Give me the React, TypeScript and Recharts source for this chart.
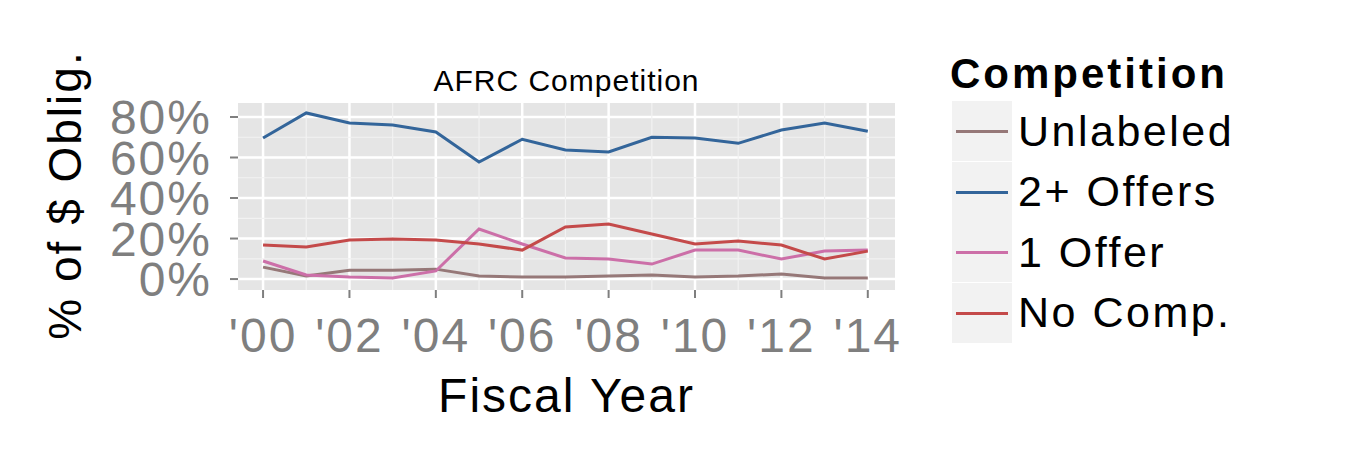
import { LineChart, Line, XAxis, YAxis, CartesianGrid, ReferenceLine } from "recharts";

const years = [2000, 2001, 2002, 2003, 2004, 2005, 2006, 2007, 2008, 2009, 2010, 2011, 2012, 2013, 2014];
const unlabeled = [5.9, 1.5, 4.4, 4.4, 4.9, 1.5, 1, 1, 1.5, 2, 1, 1.5, 2.5, 0.5, 0.5];
const twoPlus = [69.6, 82, 77, 76, 72.6, 57.8, 69, 63.7, 62.7, 70, 69.6, 67, 73.6, 77, 73];
const oneOffer = [8.9, 2, 1, 0.5, 4, 24.7, 17.3, 10.4, 9.9, 7.4, 14.3, 14.3, 9.9, 13.8, 14.3];
const noComp = [16.8, 15.8, 19.3, 19.8, 19.3, 17.3, 14.3, 25.7, 27.2, 22.2, 17.3, 18.8, 16.8, 9.9, 13.8];
const xTicks = [2000, 2002, 2004, 2006, 2008, 2010, 2012, 2014];
const yTicks = [0, 20, 40, 60, 80];
const yMinor = [10, 30, 50, 70];
const xMinor = [2001, 2003, 2005, 2007, 2009, 2011, 2013];

const series = [
  { key: "unlabeled", name: "Unlabeled", color: "#967878" },
  { key: "twoPlus", name: "2+ Offers", color: "#33659A" },
  { key: "oneOffer", name: "1 Offer", color: "#CC6FA8" },
  { key: "noComp", name: "No Comp.", color: "#C44A4A" },
];

const data = years.map((y, i) => ({
  year: y,
  unlabeled: unlabeled[i],
  twoPlus: twoPlus[i],
  oneOffer: oneOffer[i],
  noComp: noComp[i],
}));

const font = "'Liberation Sans', Arial, sans-serif";

export default function App() {
  return (
    <div style={{ position: "relative", width: 1334, height: 434, fontFamily: font }}>
      <LineChart width={900} height={434} data={data} margin={{ top: 95, right: 13, bottom: 72, left: 150 }}>
        <CartesianGrid fill="#E5E5E5" stroke="#FFFFFF" strokeWidth={2.5} horizontalValues={yTicks} verticalValues={xTicks} />
        {yMinor.map((v) => (
          <ReferenceLine key={"y" + v} y={v} stroke="#F2F2F2" strokeWidth={1.2} />
        ))}
        {xMinor.map((v) => (
          <ReferenceLine key={"x" + v} x={v} stroke="#F2F2F2" strokeWidth={1.2} />
        ))}
        <XAxis
          dataKey="year"
          type="number"
          domain={[1999.42, 2014.63]}
          ticks={xTicks}
          tickFormatter={(v: number) => "'" + String(v).slice(2)}
          height={80}
          axisLine={false}
          tickSize={8}
          tickMargin={20}
          tickLine={{ stroke: "#7F7F7F", strokeWidth: 2 }}
          tick={{ fill: "#7F7F7F", fontSize: 48, fontFamily: font, letterSpacing: 2 }}
          interval={0}
        />
        <YAxis
          type="number"
          domain={[-5.4, 86.9]}
          ticks={yTicks}
          tickFormatter={(v: number) => v + "%"}
          width={80}
          axisLine={false}
          tickSize={8}
          tickMargin={18}
          tickLine={{ stroke: "#7F7F7F", strokeWidth: 2 }}
          tick={{ fill: "#7F7F7F", fontSize: 48, fontFamily: font, letterSpacing: 2 }}
          interval={0}
        />
        {series.map((s) => (
          <Line key={s.key} dataKey={s.key} stroke={s.color} strokeWidth={3} dot={false} isAnimationActive={false} />
        ))}
      </LineChart>
      <div style={{ position: "absolute", left: 230, width: 657, top: 56, textAlign: "center", fontSize: 30, letterSpacing: 1 }}>AFRC Competition</div>
      <div style={{ position: "absolute", left: 230, width: 657, top: 360, textAlign: "center", fontSize: 48, letterSpacing: 2 }}>Fiscal Year</div>
      <div style={{ position: "absolute", left: 57, top: 187, width: 0, height: 0 }}>
        <div style={{ position: "absolute", transform: "translate(-50%,-50%) rotate(-90deg)", whiteSpace: "nowrap", fontSize: 46, letterSpacing: 2 }}>% of $ Oblig.</div>
      </div>
      <div style={{ position: "absolute", left: 942, top: 42, fontSize: 42, fontWeight: "bold", letterSpacing: 3 }}>Competition</div>
      {series.map((s, i) => (
        <div key={s.key} style={{ position: "absolute", left: 944, top: 93 + i * 60.5, height: 60, display: "flex", alignItems: "center" }}>
          <div style={{ width: 60, height: 60, background: "#F2F2F2", position: "relative" }}>
            <div style={{ position: "absolute", left: 4, right: 4, top: 29, height: 3, background: s.color }} />
          </div>
          <span style={{ marginLeft: 6, fontSize: 43, letterSpacing: 2.5 }}>{s.name}</span>
        </div>
      ))}
    </div>
  );
}
